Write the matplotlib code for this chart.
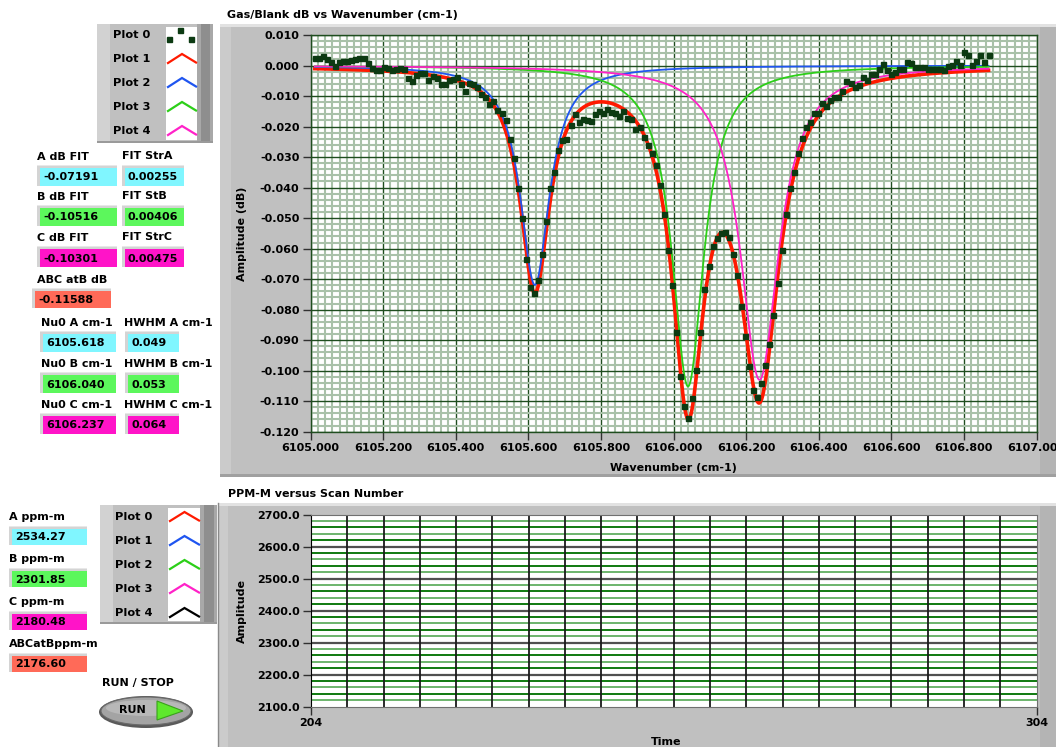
import numpy as np
import matplotlib
matplotlib.use("Agg")
import matplotlib.pyplot as plt
from matplotlib.patches import Rectangle, Ellipse, Polygon
from matplotlib.lines import Line2D
from matplotlib.ticker import FixedLocator, MultipleLocator

W, H, DPI = 1056, 747, 100
FONT = dict(family="DejaVu Sans", weight="bold", size=8)

# ---------------- measured spectrum: Gas/Blank (dB) -> Plot 0 ----------------
wn_first = 6105.012      # cm-1, first sample
wn_step = 0.01118        # cm-1 between samples
gas_blank_mdb = [
    2.4, 2.6, 3.0, 2.0, 1.2, 0.0, 1.3, 1.5, 1.6, 1.8,
    2.2, 2.4, 2.3, 0.9, -0.9, -1.5, -1.4, -0.6, -0.8, -1.5,
    -1.1, -0.7, -1.3, -4.0, -5.2, -3.0, -2.4, -2.4, -4.7, -3.5,
    -4.0, -6.0, -6.0, -4.7, -4.5, -3.8, -6.0, -8.5, -5.7, -6.1,
    -7.2, -9.4, -10.2, -12.5, -11.5, -14.6, -15.5, -17.7, -24.1, -30.4,
    -40.0, -50.0, -63.4, -72.7, -74.7, -70.3, -61.7, -51.1, -40.1, -35.0,
    -27.7, -24.5, -24.2, -19.5, -15.9, -18.5, -17.4, -17.9, -18.1, -15.9,
    -14.8, -15.4, -14.1, -15.1, -15.6, -16.7, -14.8, -17.2, -17.4, -20.9,
    -20.0, -23.3, -26.0, -28.8, -32.6, -39.2, -48.7, -60.3, -71.9, -87.4,
    -101.9, -111.5, -115.5, -109.0, -99.7, -87.4, -73.2, -65.6, -59.2, -56.6,
    -55.0, -54.6, -56.3, -61.7, -68.6, -78.9, -88.5, -98.4, -106.3, -108.5,
    -104.2, -98.1, -91.4, -81.7, -71.4, -60.6, -48.5, -40.1, -34.8, -28.6,
    -23.8, -20.3, -18.4, -15.6, -15.6, -12.4, -13.2, -11.3, -10.2, -10.2,
    -8.2, -5.2, -5.8, -7.1, -6.3, -3.8, -4.6, -2.7, -2.7, -1.1,
    0.5, -1.4, -2.7, -2.2, -1.1, -1.1, 1.3, 0.8, -0.5, -0.5,
    -0.5, -1.1, -1.1, -1.1, -1.1, -1.6, -0.2, 0.2, 1.6, 0.2,
    4.4, 3.5, 0.2, 1.6, 3.3, 1.1, 3.3,
]

# ---------------- three-line Lorentzian fit results ----------------
fit_peak_db = [-0.07191, -0.10516, -0.10301]     # A, B, C
fit_strength = [0.00255, 0.00406, 0.00475]
fit_nu0 = [6105.618, 6106.040, 6106.237]
fit_hwhm = [0.049, 0.053, 0.064]
abc_at_b_db = -0.11588

# ---------------- path-integrated concentrations ----------------
ppm_names = ["A ppm-m", "B ppm-m", "C ppm-m", "ABCatBppm-m"]
ppm_values = [2534.27, 2301.85, 2180.48, 2176.60]

# ---------------- axis ticks ----------------
wn_ticks = [6105.0, 6105.2, 6105.4, 6105.6, 6105.8, 6106.0,
            6106.2, 6106.4, 6106.6, 6106.8, 6107.0]
db_ticks = [0.010, 0.000, -0.010, -0.020, -0.030, -0.040, -0.050,
            -0.060, -0.070, -0.080, -0.090, -0.100, -0.110, -0.120]
ppm_ticks = [2100.0, 2200.0, 2300.0, 2400.0, 2500.0, 2600.0, 2700.0]
scan_range = [204, 304]

# ---------------- colours ----------------
C_PANEL = "#c0c0c0"
C_RED = "#ff1a00"
C_BLUE = "#1f55f0"
C_GREEN = "#2ccf18"
C_MAGENTA = "#ff22c8"
C_DATA = "#0c3a12"
C_CYAN = "#80f6ff"
C_LGREEN = "#5cf75c"
C_PINK = "#ff14c8"
C_SALMON = "#ff6a58"

fig = plt.figure(figsize=(W / DPI, H / DPI), dpi=DPI)
fig.patch.set_facecolor("white")

bg = fig.add_axes([0, 0, 1, 1], zorder=0)
bg.set_xlim(0, W)
bg.set_ylim(H, 0)
bg.axis("off")


def px_axes(x0, y0, x1, y1, **kw):
    return fig.add_axes([x0 / W, 1 - y1 / H, (x1 - x0) / W, (y1 - y0) / H], **kw)


def rect(x0, y0, x1, y1, color, **kw):
    bg.add_patch(Rectangle((x0, y0), x1 - x0, y1 - y0, facecolor=color,
                           edgecolor="none", **kw))


def label(x, y, s, **kw):
    opts = dict(FONT)
    opts.update(kw)
    bg.text(x, y, s, va="center", ha="left", **opts)


def indicator(x0, y0, x1, y1, color, s):
    rect(x0 - 3, y0 - 3, x1, y1, "#d4d4d4")
    rect(x0 - 3, y0 - 3, x1, y0 - 2, "#e8e8e8")
    rect(x0, y0, x1, y1, color)
    label(x0 + 3, (y0 + y1) / 2 + 0.5, s)


def legend_box(x0, y0, x1, y1, swatch_x0, swatch_x1):
    rect(x0, y0, x1, y1, C_PANEL)
    rect(x0, y0, x0 + 13, y1, "#d2d2d2")
    rect(swatch_x0, y0 + 3, swatch_x1, y1 - 3, "white")
    rect(swatch_x1, y0, x1, y1, "#a8a8a8")
    rect(swatch_x1 + 4, y0, x1 - 3, y1, "#8e8e8e")
    rect(x0, y1 - 2, x1, y1, "#9a9a9a")


def chevron(x0, x1, yc, color):
    xm = (x0 + x1) / 2
    bg.add_line(Line2D([x0, xm, x1], [yc + 4, yc - 5, yc + 3.5],
                       color=color, lw=1.6, solid_joinstyle="miter"))


# ======================= upper section =======================
label(227, 15, "Gas/Blank dB vs Wavenumber (cm-1)")
rect(220, 24, W, 477, C_PANEL)
rect(220, 24, W, 27, "#e2e2e2")
rect(220, 27, 231, 477, "#cbcbcb")
rect(1040, 27, W, 477, "#b4b4b4")
rect(220, 474, W, 477, "#a0a0a0")

# legend of the spectrum graph
legend_box(97, 24, 213, 143, 166, 197)
plot_names = ["Plot 0", "Plot 1", "Plot 2", "Plot 3", "Plot 4"]
upper_colors = [C_DATA, C_RED, C_BLUE, C_GREEN, C_MAGENTA]
for i, (name, col) in enumerate(zip(plot_names, upper_colors)):
    yc = 35 + 24 * i
    label(113, yc, name, size=8.2)
    if i == 0:
        bg.plot([169, 180, 191], [39, 30, 39], "s", ms=3.6, color=col)
    else:
        chevron(168, 196, yc, col)

# fit result indicators
line_tags = ["A", "B", "C"]
box_colors = [C_CYAN, C_LGREEN, C_PINK]
str_titles = ["FIT StrA", "FIT StB", "FIT StrC"]
row_y = [157, 197, 238]
for tag, col, st, yl, pk, s in zip(line_tags, box_colors, str_titles, row_y,
                                    fit_peak_db, fit_strength):
    label(37, yl, f"{tag} dB FIT")
    label(122, yl - 1, st)
    indicator(40, yl + 11, 117, yl + 29, col, f"{pk:.5f}")
    indicator(125, yl + 11, 184, yl + 29, col, f"{s:.5f}")

label(37, 280, "ABC atB dB")
indicator(35, 291, 111, 308, C_SALMON, f"{abc_at_b_db:.5f}")

row_y = [323, 364, 405]
for tag, col, yl, c0, hw in zip(line_tags, box_colors, row_y, fit_nu0, fit_hwhm):
    label(41, yl, f"Nu0 {tag} cm-1")
    label(124, yl, f"HWHM {tag} cm-1")
    indicator(43, yl + 11, 116, yl + 29, col, f"{c0:.3f}")
    indicator(128, yl + 11, 179, yl + 29, col, f"{hw:.3f}")

# spectrum graph
ax = px_axes(310.5, 35, 1036.5, 431.7, zorder=2)
ax.set_facecolor("white")
ax.set_xlim(6105.0, 6107.0)
ax.set_ylim(-0.120, 0.010)
ax.xaxis.set_major_locator(FixedLocator(wn_ticks))
ax.set_xticklabels([f"{t:.3f}" for t in wn_ticks], **FONT)
ax.yaxis.set_major_locator(FixedLocator(db_ticks))
ax.set_yticklabels([f"{t:.3f}".replace("-0.000", "0.000") for t in db_ticks], **FONT)
ax.xaxis.set_minor_locator(MultipleLocator(0.02))
ax.yaxis.set_minor_locator(MultipleLocator(0.002))
ax.grid(which="minor", color="#a9c1a9", lw=1.5)
ax.grid(which="major", color="#1f4d1f", lw=1.0)
ax.set_axisbelow(True)
ax.tick_params(which="major", direction="out", length=6, width=1, color="#303030", pad=2)
ax.tick_params(which="minor", length=0)
for sp in ax.spines.values():
    sp.set_color("#1f4d1f")
    sp.set_linewidth(1.0)
ax.set_xlabel("Wavenumber (cm-1)", **FONT)
ax.xaxis.set_label_coords(0.5, -0.078)
ax.set_ylabel("Amplitude (dB)", **FONT)
ax.yaxis.set_label_coords(-0.087, 0.5)

wn = wn_first + wn_step * np.arange(len(gas_blank_mdb))
gas_blank_db = np.array(gas_blank_mdb) * 1e-3
wn_fit = np.linspace(wn[0], wn[-1], 1500)


def lorentzian(x, peak, centre, hw):
    return peak * hw ** 2 / ((x - centre) ** 2 + hw ** 2)


components = [lorentzian(wn_fit, p, c, w)
              for p, c, w in zip(fit_peak_db, fit_nu0, fit_hwhm)]
total_fit = np.sum(components, axis=0)

ax.plot(wn_fit, total_fit, color=C_RED, lw=2.6, zorder=3)
ax.plot(wn_fit, components[0], color=C_BLUE, lw=1.3, zorder=4)
ax.plot(wn_fit, components[1], color=C_GREEN, lw=1.3, zorder=4)
ax.plot(wn_fit, components[2], color=C_MAGENTA, lw=1.3, zorder=4)
ax.plot(wn, gas_blank_db, "s", ms=3.6, color=C_DATA, mec=C_DATA, zorder=5)

# ======================= lower section =======================
label(228, 494, "PPM-M versus Scan Number")
rect(218, 503, W, H, C_PANEL)
rect(218, 503, W, 506, "#e2e2e2")
rect(218, 506, 228, H, "#cbcbcb")
rect(1040, 506, W, H, "#b4b4b4")
bg.plot([218, 218], [503, H], color="#8a8a8a", lw=1)

legend_box(100, 505, 217, 624, 168, 200)
lower_colors = [C_RED, C_BLUE, C_GREEN, C_MAGENTA, "black"]
for i, (name, col) in enumerate(zip(plot_names, lower_colors)):
    yc = 517 + 24 * i
    label(115, yc, name, size=8.2)
    chevron(170, 199, yc, col)

ppm_box_colors = [C_CYAN, C_LGREEN, C_PINK, C_SALMON]
for i, (name, val, col) in enumerate(zip(ppm_names, ppm_values, ppm_box_colors)):
    yl = 517 + 42.3 * i
    label(9, yl, name)
    indicator(12, yl + 12, 87, yl + 28, col, f"{val:.2f}")

label(102, 683, "RUN / STOP")
bg.add_patch(Ellipse((146, 712), 94, 32, facecolor="#5a5a5a", edgecolor="none"))
bg.add_patch(Ellipse((146, 711), 90, 28, facecolor="#a4a4a4", edgecolor="#6a6a6a", lw=0.8))
bg.add_patch(Ellipse((146, 708), 80, 16, facecolor="#b8b8b8", edgecolor="none"))
bg.text(132, 710, "RUN", ha="center", va="center", **FONT)
bg.add_patch(Polygon([[157, 701], [157, 720], [183, 711]], closed=True,
                     facecolor="#5ee82c", edgecolor="#3aa01c", lw=0.8))

ax2 = px_axes(311, 514.5, 1036.5, 706.7, zorder=2)
ax2.set_facecolor("white")
ax2.set_xlim(scan_range[0], scan_range[1])
ax2.set_ylim(ppm_ticks[0], ppm_ticks[-1])
ax2.set_xticks(scan_range)
ax2.set_xticklabels([str(v) for v in scan_range], **FONT)
ax2.set_yticks(ppm_ticks)
ax2.set_yticklabels([f"{v:.1f}" for v in ppm_ticks], **FONT)
ax2.tick_params(direction="out", length=6, width=1, color="#303030", pad=2)
for v in np.arange(ppm_ticks[0] + 20, ppm_ticks[-1], 20):
    if v % 100 == 0:
        continue
    shade = "#0f7a0f" if (v - ppm_ticks[0]) % 40 == 0 else "#6cb46c"
    ax2.axhline(v, color=shade, lw=1.4, zorder=1)
for v in ppm_ticks[1:-1]:
    ax2.axhline(v, color="#505050", lw=1.6, zorder=1.5)
for v in range(scan_range[0] + 5, scan_range[1], 5):
    ax2.axvline(v, color="#1a1a1a", lw=1.3, zorder=2)
for side in ("top", "right", "bottom"):
    ax2.spines[side].set_color("#707070")
ax2.spines["left"].set_color("black")
ax2.set_xlabel("Time", **FONT)
ax2.xaxis.set_label_coords(0.49, -0.16)
ax2.set_ylabel("Amplitude", **FONT)
ax2.yaxis.set_label_coords(-0.088, 0.5)

fig.savefig("out.png", dpi=DPI)
